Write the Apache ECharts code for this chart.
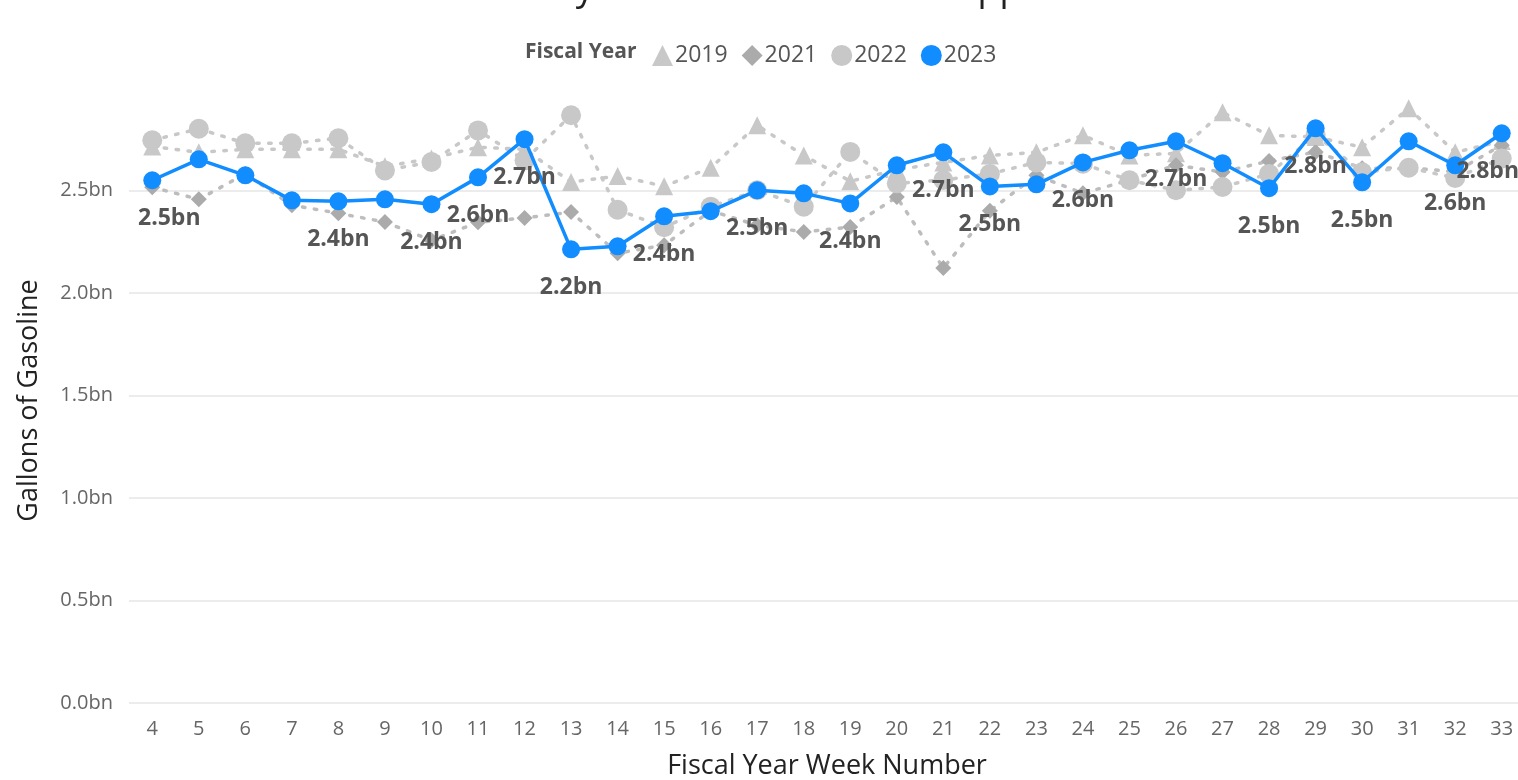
<!DOCTYPE html>
<html>
<head>
<meta charset="utf-8">
<script src="https://cdn.jsdelivr.net/npm/echarts@6/dist/echarts.min.js"></script>
<style>
  html, body { margin: 0; padding: 0; background: #fff; }
  #chart { width: 1518px; height: 780px; }
</style>
</head>
<body>
<div id="chart"></div>
<script>
// week numbers on the x axis
const weeks = ['4','5','6','7','8','9','10','11','12','13','14','15','16','17','18','19','20','21','22','23','24','25','26','27','28','29','30','31','32','33']

// gallons of gasoline, in billions
const fy2019 = [2.714,2.685,2.70,2.70,2.70,2.617,2.655,2.71,2.70,2.54,2.57,2.52,2.61,2.817,2.67,2.544,2.60,2.636,2.67,2.685,2.768,2.67,2.68,2.88,2.768,2.76,2.71,2.90,2.685,2.74]
const fy2021 = [2.515,2.456,2.58,2.427,2.388,2.345,2.256,2.344,2.365,2.394,2.193,2.232,2.40,2.33,2.297,2.321,2.467,2.121,2.40,2.573,2.485,2.55,2.622,2.589,2.643,2.687,2.607,2.61,2.59,2.72]
const fy2022 = [2.744,2.80,2.729,2.729,2.754,2.597,2.638,2.792,2.646,2.866,2.405,2.32,2.42,2.50,2.42,2.687,2.534,2.55,2.58,2.636,2.63,2.549,2.50,2.516,2.58,2.77,2.588,2.61,2.56,2.655]
const fy2023 = [2.549,2.651,2.573,2.451,2.446,2.456,2.432,2.563,2.749,2.212,2.227,2.373,2.398,2.500,2.485,2.436,2.622,2.685,2.519,2.529,2.636,2.695,2.739,2.632,2.510,2.802,2.539,2.739,2.622,2.778]

// weeks whose 2023 value carries a data label
const labelWeeks = ['4','8','10','11','12','13','15','17','19','21','22','24','26','28','29','30','32','33']

const yTicks = [0, 0.5, 1.0, 1.5, 2.0, 2.5]

const font = "'Open Sans', 'DejaVu Sans', sans-serif"

const myChart = echarts.init(document.getElementById('chart'))

function greySeries(name, data, symbol, size, color, lineColor){
  return {
    name: name,
    type: 'line',
    data: data,
    symbol: symbol,
    symbolSize: size,
    itemStyle: { color: color },
    lineStyle: { color: lineColor, width: 3.5, type: [2.5, 9.5], cap: 'round' },
    emphasis: { disabled: true },
    z: 2
  }
}

// labels at the plot edges are nudged inwards
function labelOffset(week){
  if(week === '4') return [17, 0]
  if(week === '33') return [-14, 0]
  return [0, 0]
}

const option = {
  animation: false,
  title: [
    {
      text: 'Weekly Gallons of Gasoline Supplied',
      left: 773,
      textAlign: 'center',
      top: -33,
      textStyle: { fontFamily: font, fontSize: 36, fontWeight: 'normal', color: '#222' }
    },
    {
      text: 'Fiscal Year',
      left: 520,
      top: 37,
      textStyle: { fontFamily: font, fontSize: 21, fontWeight: 'bold', color: '#555' }
    }
  ],
  legend: {
    left: 647,
    top: 39,
    itemWidth: 21,
    itemHeight: 21,
    itemGap: 14,
    textStyle: { fontFamily: font, fontSize: 23, color: '#555', padding: [0, 0, 0, -3] },
    data: [
      { name: '2019', icon: 'triangle', itemStyle: { color: '#c8c8c8' } },
      { name: '2021', icon: 'diamond', itemStyle: { color: '#ababab' } },
      { name: '2022', icon: 'circle', itemStyle: { color: '#c8c8c8' } },
      { name: '2023', icon: 'circle', itemStyle: { color: '#118dff' } }
    ]
  },
  grid: {
    left: 129,
    right: -7,
    top: 98,
    bottom: 77,
    containLabel: false,
    outerBoundsMode: 'none'
  },
  xAxis: {
    type: 'category',
    data: weeks,
    boundaryGap: true,
    name: 'Fiscal Year Week Number',
    nameLocation: 'middle',
    nameGap: 50,
    nameTextStyle: { fontFamily: font, fontSize: 27, color: '#222' },
    axisLine: { show: false },
    axisTick: { show: false },
    axisLabel: { fontFamily: font, fontSize: 20, color: '#666', margin: 16, interval: 0 }
  },
  yAxis: {
    type: 'value',
    min: yTicks[0],
    max: 2.95,
    interval: 0.5,
    name: 'Gallons of Gasoline',
    nameLocation: 'middle',
    nameGap: 86,
    nameTextStyle: { fontFamily: font, fontSize: 27, color: '#222' },
    axisLine: { show: false },
    axisTick: { show: false },
    splitLine: { lineStyle: { color: '#ececec', width: 2 }, showMaxLine: false },
    axisLabel: {
      fontFamily: font, fontSize: 20, color: '#666', margin: 16, showMaxLabel: false,
      formatter: function(v){ return v.toFixed(1) + 'bn' }
    }
  },
  series: [
    greySeries('2019', fy2019, 'triangle', 18, '#c8c8c8', '#c8c8c8'),
    greySeries('2021', fy2021, 'diamond', 16, '#ababab', '#bdbdbd'),
    greySeries('2022', fy2022, 'circle', 20, '#c8c8c8', '#c8c8c8'),
    {
      name: '2023',
      type: 'line',
      symbol: 'circle',
      symbolSize: 18,
      itemStyle: { color: '#118dff' },
      lineStyle: { color: '#118dff', width: 3.5 },
      emphasis: { disabled: true },
      z: 5,
      data: fy2023.map((v, i) => ({
        value: v,
        label: {
          show: labelWeeks.includes(weeks[i]),
          offset: labelOffset(weeks[i])
        }
      })),
      label: {
        position: 'bottom',
        distance: 18,
        fontFamily: font,
        fontSize: 23,
        fontWeight: 'bold',
        color: '#555',
        formatter: function(p){ return p.value.toFixed(1) + 'bn' }
      }
    }
  ]
}

myChart.setOption(option)
window.addEventListener('resize', function () {
  myChart.resize()
})
</script>
</body>
</html>
